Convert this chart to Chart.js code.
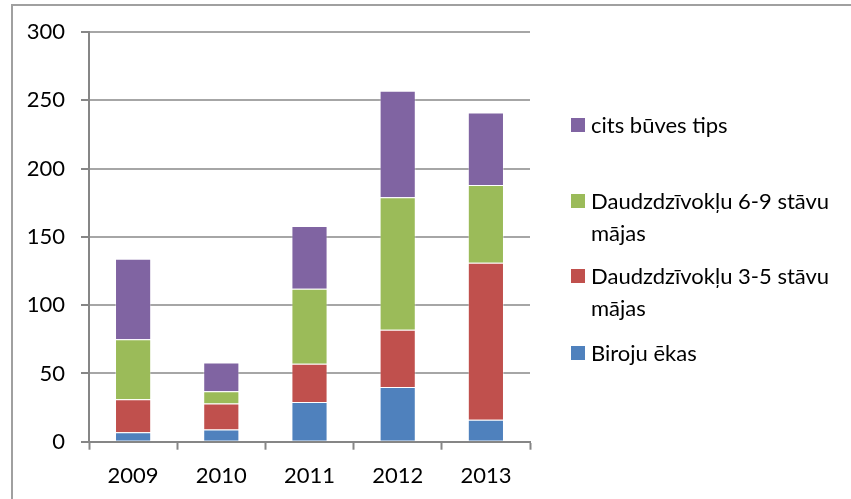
<!DOCTYPE html>
<html>
<head>
<meta charset="utf-8">
<script src="https://cdn.jsdelivr.net/npm/chart.js@4/dist/chart.umd.min.js"></script>
<style>
  html, body { margin: 0; padding: 0; background: #fff; }
  #wrap { position: relative; width: 851px; height: 499px; overflow: hidden; }
  #frame { position: absolute; left: 11px; top: 4px; width: 900px; height: 600px;
           border-top: 2px solid #a0a0a0; border-left: 2px solid #a0a0a0; box-sizing: border-box; }
  canvas { position: absolute; left: 0; top: 0; }
  #legend { position: absolute; left: 571px; top: 0; font-family: Lato, sans-serif; font-size: 22px; color: #000; }
  .item { position: absolute; left: 0; white-space: nowrap; line-height: 32px; }
  .box { position: absolute; left: 0; top: 9px; width: 14px; height: 14px; }
  .txt { position: absolute; left: 20px; top: 0; }
</style>
</head>
<body>
<div id="wrap">
  <div id="frame"></div>
  <canvas id="chart" width="851" height="499"></canvas>
  <div id="legend"></div>
</div>
<script>
var years = ['2009', '2010', '2011', '2012', '2013']
var biroju = [7, 9, 29, 40, 16]
var daudz35 = [24, 19, 28, 42, 115]
var daudz69 = [44, 9, 55, 97, 57]
var cits = [59, 21, 46, 78, 53]

var seriesNames = ['Biroju ēkas', 'Daudzdzīvokļu 3-5 stāvu mājas', 'Daudzdzīvokļu 6-9 stāvu mājas', 'cits būves tips']
var seriesColors = ['#4F81BD', '#C0504D', '#9BBB59', '#8064A2']
var seriesData = [biroju, daudz35, daudz69, cits]

// legend: lines of text per item, top to bottom, with center y of first line
var legendLines = [
  ['cits būves tips'],
  ['Daudzdzīvokļu 6-9 stāvu', 'mājas'],
  ['Daudzdzīvokļu 3-5 stāvu', 'mājas'],
  ['Biroju ēkas']
]
var legendY = [125, 201, 276, 353]

var datasets = seriesData.map(function (d, i) {
  return {
    label: seriesNames[i],
    data: d,
    backgroundColor: seriesColors[i],
    borderColor: 'rgba(255,255,255,0.35)',
    borderWidth: 1,
    categoryPercentage: 1,
    barPercentage: 0.41
  }
})

var font = { family: 'Lato', size: 22 }

new Chart(document.getElementById('chart').getContext('2d'), {
  type: 'bar',
  data: { labels: years, datasets: datasets },
  options: {
    responsive: false,
    animation: false,
    layout: { padding: { left: 0, top: 32, right: 321, bottom: 0 } },
    plugins: { legend: { display: false }, tooltip: { enabled: false } },
    scales: {
      x: {
        stacked: true,
        afterFit: function (s) { s.height = 57.3 },
        grid: { drawOnChartArea: false, drawTicks: true, tickLength: 8, tickColor: '#868686', tickWidth: 2 },
        border: { color: '#868686', width: 2 },
        ticks: { color: '#000', font: font, padding: 13 }
      },
      y: {
        stacked: true,
        min: 0,
        max: 300,
        afterFit: function (s) { s.width = 89 },
        grid: { color: '#a6a6a6', lineWidth: 2, tickLength: 8, tickColor: '#868686' },
        border: { color: '#868686', width: 2 },
        ticks: { stepSize: 50, color: '#000', font: font, padding: 16 }
      }
    }
  }
})

var legend = document.getElementById('legend')
var order = [3, 2, 1, 0]
order.forEach(function (si, k) {
  var item = document.createElement('div')
  item.className = 'item'
  item.style.top = (legendY[k] - 16) + 'px'
  var box = document.createElement('div')
  box.className = 'box'
  box.style.background = seriesColors[si]
  var txt = document.createElement('div')
  txt.className = 'txt'
  txt.innerHTML = legendLines[k].join('<br>')
  item.appendChild(box)
  item.appendChild(txt)
  legend.appendChild(item)
})
</script>
</body>
</html>
